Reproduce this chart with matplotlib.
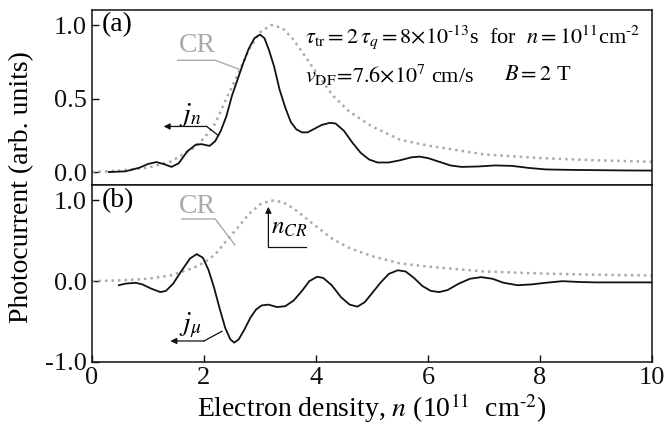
import matplotlib
matplotlib.use("Agg")
import matplotlib.pyplot as plt

plt.rcParams["font.family"] = ["Liberation Serif", "DejaVu Serif"]
plt.rcParams["mathtext.fontset"] = "stix"

BLACK = "#111111"
GRAY = "#aaaaaa"
FS = 20

# CR absorption (same curve in both panels)
cr_n = [0.0, 0.5, 1.0, 1.4, 1.8, 2.0, 2.2, 2.4, 2.6, 2.8, 3.0, 3.2, 3.4, 3.6,
        3.8, 4.0, 4.3, 4.6, 5.0, 5.5, 6.0, 7.0, 8.0, 9.0, 10.0]
cr_val = [0.0, 0.01, 0.03, 0.07, 0.16, 0.23, 0.33, 0.50, 0.66, 0.83, 0.95, 1.0,
          0.98, 0.90, 0.79, 0.68, 0.52, 0.41, 0.31, 0.22, 0.18, 0.12, 0.095, 0.08, 0.07]

# panel (a): j_n
jn_n = [0.3, 0.6, 0.85, 1.0, 1.15, 1.3, 1.42, 1.55, 1.7, 1.85, 1.95, 2.1, 2.2,
        2.3, 2.4, 2.5, 2.6, 2.7, 2.8, 2.9, 3.0, 3.08, 3.16, 3.25, 3.35, 3.45,
        3.55, 3.65, 3.75, 3.85, 3.95, 4.1, 4.25, 4.35, 4.5, 4.65, 4.8, 4.95,
        5.1, 5.3, 5.5, 5.7, 5.85, 6.0, 6.2, 6.4, 6.6, 6.9, 7.2, 7.5, 7.8, 8.1,
        8.5, 9.0, 9.5, 10.0]
jn_val = [0.0, 0.005, 0.03, 0.055, 0.068, 0.052, 0.035, 0.06, 0.14, 0.185, 0.19,
          0.178, 0.21, 0.28, 0.38, 0.52, 0.63, 0.74, 0.84, 0.91, 0.935, 0.91,
          0.83, 0.72, 0.56, 0.44, 0.34, 0.29, 0.27, 0.27, 0.29, 0.32, 0.335,
          0.33, 0.28, 0.20, 0.13, 0.085, 0.065, 0.065, 0.08, 0.10, 0.105, 0.095,
          0.07, 0.045, 0.035, 0.038, 0.045, 0.042, 0.028, 0.018, 0.015, 0.013,
          0.011, 0.01]

# panel (b): j_mu
jmu_n = [0.48, 0.6, 0.78, 0.9, 1.05, 1.22, 1.32, 1.45, 1.6, 1.75, 1.87, 1.98,
         2.08, 2.18, 2.28, 2.38, 2.47, 2.54, 2.62, 2.72, 2.83, 2.93, 3.03, 3.15,
         3.3, 3.45, 3.6, 3.75, 3.88, 4.02, 4.13, 4.28, 4.45, 4.6, 4.74, 4.87,
         5.0, 5.15, 5.3, 5.46, 5.6, 5.75, 5.9, 6.05, 6.2, 6.35, 6.55, 6.75,
         6.95, 7.15, 7.35, 7.6, 7.85, 8.1, 8.4, 8.7, 9.0, 9.5, 10.0]
jmu_val = [-0.05, -0.03, -0.02, -0.04, -0.09, -0.135, -0.12, -0.03, 0.13, 0.28,
           0.335, 0.29, 0.14, -0.08, -0.34, -0.58, -0.72, -0.76, -0.72, -0.60,
           -0.45, -0.35, -0.30, -0.29, -0.32, -0.31, -0.24, -0.12, 0.0, 0.055,
           0.04, -0.05, -0.2, -0.29, -0.315, -0.26, -0.15, -0.02, 0.09, 0.135,
           0.12, 0.04, -0.06, -0.12, -0.135, -0.11, -0.03, 0.03, 0.05, 0.03,
           -0.02, -0.05, -0.04, -0.02, 0.0, -0.01, -0.015, -0.015, -0.015]

ya_ticks = [0.0, 0.5, 1.0]
ya_labels = ["0.0", "0.5", "1.0"]
yb_ticks = [-1.0, 0.0, 1.0]
yb_labels = ["-1.0", "0.0", "1.0"]
x_ticks = [0, 2, 4, 6, 8, 10]


def style(ax):
    for s in ax.spines.values():
        s.set_linewidth(1.1)
        s.set_color(BLACK)
    ax.tick_params(direction="in", length=5, width=1.0, labelsize=FS - 1,
                   colors=BLACK, top=False, right=False)


def main():
    fig = plt.figure(figsize=(6.64, 4.30), dpi=100)
    fig.patch.set_facecolor("white")
    L, W = 92 / 664, 560 / 664
    axa = fig.add_axes([L, 1 - 185 / 430, W, 175 / 430])
    axb = fig.add_axes([L, 1 - 362 / 430, W, 177 / 430])

    dots = dict(color=GRAY, lw=1.8, linestyle=(0, (1, 1.6)))

    # ---- panel (a)
    axa.plot(cr_n, cr_val, **dots)
    axa.plot(jn_n, jn_val, color=BLACK, lw=1.3)
    axa.set_xlim(0, 10)
    axa.set_ylim(-0.088, 1.102)
    axa.set_yticks(ya_ticks)
    axa.set_yticklabels(ya_labels)
    axa.set_xticks([])
    style(axa)

    axa.text(0.18, 1.0, "(a)", fontsize=FS, va="center", ha="left")
    axa.text(1.55, 0.86, "CR", fontsize=FS, color=GRAY, va="center", ha="left")
    axa.plot([1.53, 2.2, 2.62], [0.76, 0.76, 0.70], color=GRAY, lw=1.0)
    axa.text(1.55, 0.39, "$j_n$", fontsize=FS, va="center", ha="left")
    axa.annotate("", xy=(1.28, 0.31), xytext=(2.05, 0.31),
                 arrowprops=dict(arrowstyle="-|>", color=BLACK, lw=0.9,
                                 mutation_scale=9, shrinkA=0, shrinkB=0))
    axa.plot([2.05, 2.25], [0.31, 0.25], color=BLACK, lw=0.9)
    axa.text(3.8, 0.92, r"$\tau_{\rm tr} = 2\,\tau_q = 8{\times}10^{\text{-}13}$s  for  "
             r"$n = 10^{11}$cm$^{\text{-}2}$", fontsize=FS - 4, va="center", ha="left")
    axa.text(3.8, 0.66, r"$v_{\rm DF}\!=\!7.6{\times}10^{7}$ cm/s",
             fontsize=FS - 4, va="center", ha="left")
    axa.text(7.35, 0.66, r"$B = 2$ T", fontsize=FS - 4, va="center", ha="left")

    # ---- panel (b)
    axb.plot(cr_n, cr_val, **dots)
    axb.plot(jmu_n, jmu_val, color=BLACK, lw=1.3)
    axb.set_xlim(0, 10)
    axb.set_ylim(-1.0, 1.19)
    axb.set_yticks(yb_ticks)
    axb.set_yticklabels(yb_labels)
    axb.set_xticks(x_ticks)
    axb.set_xticklabels([str(t) for t in x_ticks])
    style(axb)

    axb.text(0.18, 1.0, "(b)", fontsize=FS, va="center", ha="left")
    axb.text(1.55, 0.93, "CR", fontsize=FS, color=GRAY, va="center", ha="left")
    axb.plot([1.6, 2.2, 2.55], [0.77, 0.77, 0.45], color=GRAY, lw=1.0)
    axb.annotate("", xy=(3.15, 0.92), xytext=(3.15, 0.42),
                 arrowprops=dict(arrowstyle="-|>", color=BLACK, lw=0.9,
                                 mutation_scale=9, shrinkA=0, shrinkB=0))
    axb.plot([3.15, 3.83], [0.42, 0.42], color=BLACK, lw=0.9)
    axb.text(3.2, 0.66, "$n_{CR}$", fontsize=FS - 2, va="center", ha="left")
    axb.text(1.55, -0.55, r"$j_\mu$", fontsize=FS, va="center", ha="left")
    axb.annotate("", xy=(1.4, -0.74), xytext=(2.0, -0.74),
                 arrowprops=dict(arrowstyle="-|>", color=BLACK, lw=0.9,
                                 mutation_scale=9, shrinkA=0, shrinkB=0))
    axb.plot([2.0, 2.32], [-0.74, -0.62], color=BLACK, lw=0.9)
    axb.set_xlabel(r"Electron density, $n$ (10$^{11}$  cm$^{\text{-}2}$)", fontsize=FS,
                   labelpad=2)

    fig.text(0.033, 1 - 187 / 430, "Photocurrent (arb. units)", fontsize=FS,
             rotation=90, va="center", ha="center")

    fig.savefig("out.png", dpi=100)


if __name__ == "__main__":
    main()
